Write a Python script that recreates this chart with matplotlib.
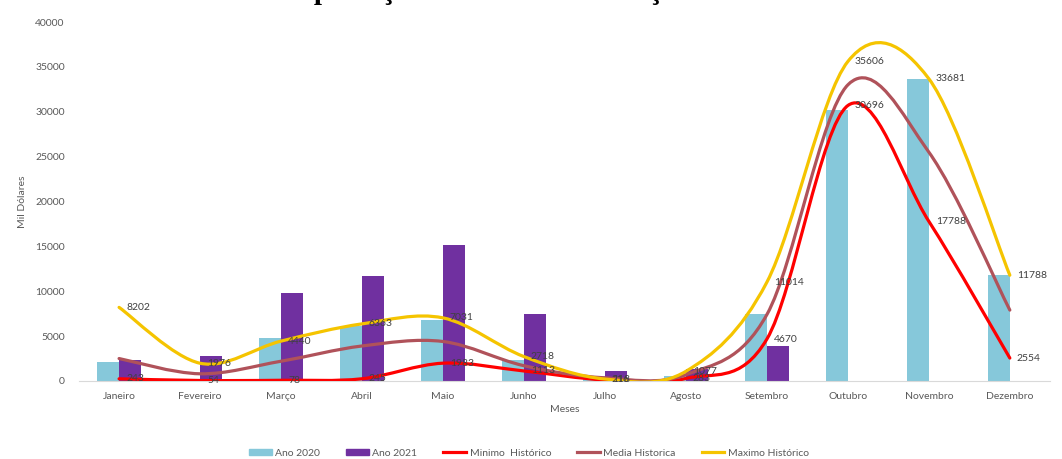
import numpy as np
import matplotlib
matplotlib.use("Agg")
import matplotlib.pyplot as plt
from matplotlib.path import Path
from matplotlib.patches import PathPatch, Patch
from matplotlib.lines import Line2D

plt.rcParams['font.family'] = ['Lato', 'DejaVu Sans']

meses = ['Janeiro', 'Fevereiro', 'Março', 'Abril', 'Maio', 'Junho', 'Julho',
         'Agosto', 'Setembro', 'Outubro', 'Novembro', 'Dezembro']
ano_2020 = [2100, 200, 4750, 6100, 6850, 2300, 500, 600, 7500, 30200, 33681, 11788]
ano_2021 = [2300, 2800, 9800, 11700, 15100, 7500, 1100, 1300, 3900, np.nan, np.nan, np.nan]
minimo = [243, 54, 78, 245, 1983, 1113, 118, 283, 4670, 30696, 17788, 2554]
media = [2500, 800, 2200, 3900, 4400, 1700, 350, 700, 7400, 33000, 25500, 7900]
maximo = [8202, 1976, 4440, 6363, 7031, 2718, 216, 1077, 11014, 35606, 33681, 11788]

C_2020 = '#86C8DA'
C_2021 = '#7030A0'
C_MIN = '#FF0000'
C_MED = '#B0525A'
C_MAX = '#F5C400'
GREY = '#595959'


def smooth_path(xs, ys):
    # excel-like smoothed line: cubic bezier through every point
    xs = np.asarray(xs, float)
    ys = np.asarray(ys, float)
    n = len(xs)
    verts = [(xs[0], ys[0])]
    codes = [Path.MOVETO]
    for i in range(n - 1):
        p0 = (xs[i - 1], ys[i - 1]) if i > 0 else (xs[i], ys[i])
        p3 = (xs[i + 2], ys[i + 2]) if i + 2 < n else (xs[i + 1], ys[i + 1])
        c1 = (xs[i] + (xs[i + 1] - p0[0]) / 6, ys[i] + (ys[i + 1] - p0[1]) / 6)
        c2 = (xs[i + 1] - (p3[0] - xs[i]) / 6, ys[i + 1] - (p3[1] - ys[i]) / 6)
        verts += [c1, c2, (xs[i + 1], ys[i + 1])]
        codes += [Path.CURVE4] * 3
    return Path(verts, codes)


fig = plt.figure(figsize=(10.62, 4.59), dpi=100)
ax = fig.add_axes([0.074, 0.170, 0.915, 0.782])

x = np.arange(len(meses))
w = 0.27
ax.bar(x - w / 2, ano_2020, w, color=C_2020, zorder=2)
ax.bar(x + w / 2, ano_2021, w, color=C_2021, zorder=2)

for serie, cor, z in [(minimo, C_MIN, 3), (media, C_MED, 4), (maximo, C_MAX, 5)]:
    ax.add_patch(PathPatch(smooth_path(x, serie), facecolor='none', edgecolor=cor,
                           lw=2.3, zorder=z, capstyle='round', joinstyle='round'))

for serie in (minimo, maximo):
    for xi, v in zip(x, serie):
        ax.annotate(str(v), (xi, v), xytext=(5, 0), textcoords='offset points',
                    ha='left', va='center', fontsize=7.5, color='#404040', zorder=6)

ax.set_xlim(-0.5, len(meses) - 0.5)
ax.set_ylim(0, 40000)
ax.set_yticks(np.arange(0, 40001, 5000))
ax.set_xticks(x)
ax.set_xticklabels(meses)
ax.tick_params(axis='both', length=0, labelsize=7.5, labelcolor=GREY)
ax.tick_params(axis='y', pad=10)
ax.tick_params(axis='x', pad=8)
for s in ['top', 'right', 'left']:
    ax.spines[s].set_visible(False)
ax.spines['bottom'].set_color('#D9D9D9')
ax.set_xlabel('Meses', fontsize=7.5, color=GREY, labelpad=3)
ax.set_ylabel('Mil Dólares', fontsize=7.5, color=GREY, labelpad=6)

fig.text(280 / 1062, 1 + 1 / 459, 'Exportação do Cacau e Evolução Histórica',
         ha='left', va='baseline', fontsize=21, fontweight='bold',
         family='Liberation Serif', color='black')

handles = [Patch(color=C_2020), Patch(color=C_2021),
           Line2D([], [], color=C_MIN, lw=2.3), Line2D([], [], color=C_MED, lw=2.3),
           Line2D([], [], color=C_MAX, lw=2.3)]
labels = ['Ano 2020', 'Ano 2021', 'Minimo  Histórico', 'Media Historica', 'Maximo Histórico']
leg = fig.legend(handles, labels, loc='center', bbox_to_anchor=(529 / 1062, 1 - 453 / 459),
                 ncol=5, frameon=False, fontsize=7.5, handlelength=2.2, handleheight=0.6,
                 columnspacing=2.5, handletextpad=0.3)
for t in leg.get_texts():
    t.set_color(GREY)

fig.savefig('out.png', dpi=100)
